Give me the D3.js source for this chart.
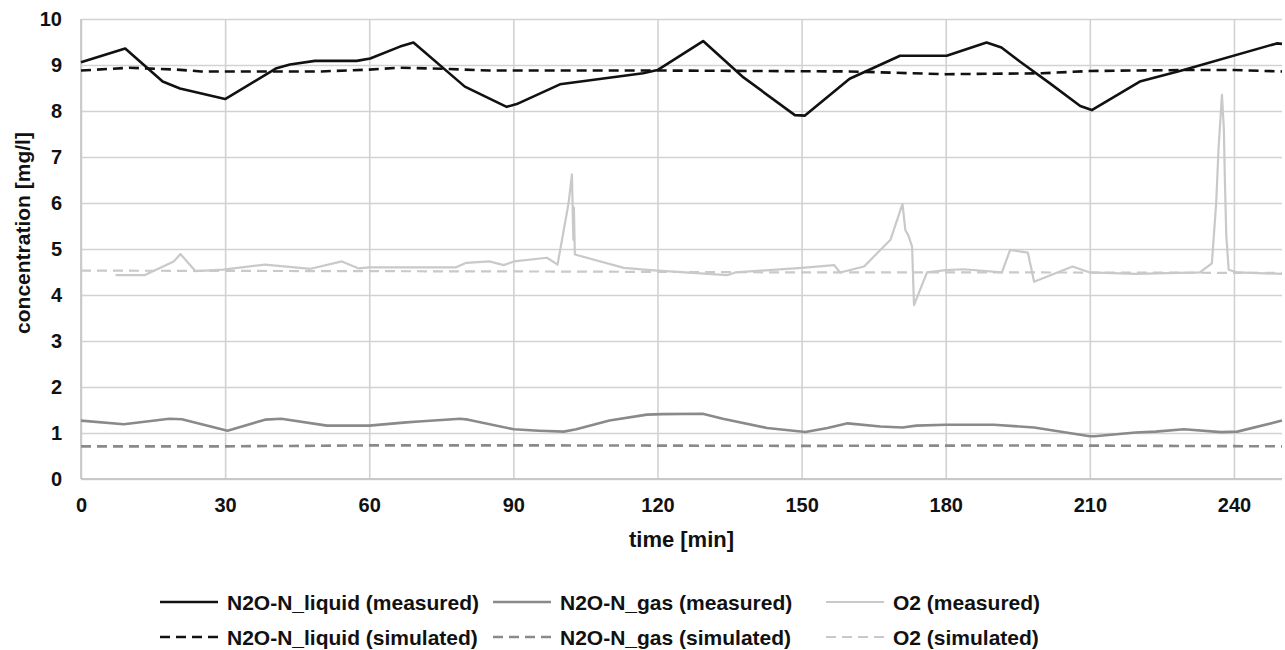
<!DOCTYPE html>
<html>
<head>
<meta charset="utf-8">
<script src="https://cdn.jsdelivr.net/npm/d3@7.9.0/dist/d3.min.js"></script>
<style>
  body { margin: 0; background: #fff; }
  text { font-family: "Liberation Sans", Arial, sans-serif; font-weight: bold; fill: #111; }
</style>
</head>
<body>
<svg id="chart" width="1285" height="650"></svg>
<script>
// values
const xTicks = [0, 30, 60, 90, 120, 150, 180, 210, 240];
const yTicks = [0, 1, 2, 3, 4, 5, 6, 7, 8, 9, 10];

const liquidMeasT = [0, 9.2, 17, 20.6, 30, 40.7, 43.5, 48.7, 57.4, 60.2, 66.4, 69.2, 79.9, 88.6, 90.7, 99.7, 117, 120, 129.5, 137.9, 148.6, 150.7, 160, 170.5, 180.2, 188.5, 191.6, 195.5, 201.7, 208, 210.4, 220.4, 229.5, 248.9, 250];
const liquidMeasV = [9.06, 9.36, 8.64, 8.49, 8.26, 8.93, 9.01, 9.09, 9.09, 9.14, 9.40, 9.49, 8.53, 8.09, 8.15, 8.58, 8.82, 8.89, 9.52, 8.73, 7.91, 7.90, 8.70, 9.20, 9.20, 9.49, 9.38, 9.07, 8.60, 8.11, 8.02, 8.64, 8.89, 9.47, 9.46];

const liquidSimT = [0, 10, 20, 25, 50, 60, 66, 75, 85, 100, 120, 140, 160, 180, 200, 210, 229, 240, 250];
const liquidSimV = [8.88, 8.94, 8.90, 8.86, 8.86, 8.90, 8.94, 8.92, 8.88, 8.88, 8.88, 8.87, 8.86, 8.80, 8.82, 8.87, 8.89, 8.89, 8.86];

const gasMeasT = [0, 8.9, 18.4, 21, 30.5, 38.3, 41.7, 51.2, 60, 67.7, 70.3, 78.9, 80.6, 90.1, 95.3, 100.5, 103.1, 110, 117.8, 121, 129.4, 133.6, 142.8, 150.8, 155.4, 159.6, 166.4, 171, 173.9, 180, 190, 198.4, 210, 211, 219.5, 223.7, 229.6, 237.3, 240.7, 250];
const gasMeasV = [1.27, 1.19, 1.31, 1.30, 1.05, 1.29, 1.31, 1.16, 1.16, 1.23, 1.25, 1.31, 1.29, 1.08, 1.05, 1.03, 1.08, 1.27, 1.40, 1.41, 1.42, 1.31, 1.11, 1.02, 1.11, 1.21, 1.14, 1.12, 1.16, 1.18, 1.18, 1.12, 0.93, 0.93, 1.01, 1.03, 1.08, 1.02, 1.03, 1.27];

const gasSimT = [0, 30, 60, 100, 150, 200, 250];
const gasSimV = [0.71, 0.71, 0.73, 0.73, 0.72, 0.73, 0.71];

const o2MeasT = [7.2, 13.2, 19.3, 20.7, 23.8, 29.6, 38.3, 47.8, 54.3, 57.7, 60, 78, 80.2, 85, 88, 90.1, 97, 99.2, 101.5, 102.2, 102.4, 102.5, 102.6, 102.8, 113, 118.5, 134.5, 136.2, 150, 156.8, 158, 163, 168.5, 171, 171.6, 172.2, 173, 173.4, 176.1, 180, 183.7, 191.7, 193.4, 197.1, 198.4, 206.4, 210, 219.5, 232.9, 235.4, 236.3, 236.8, 237.5, 237.9, 238.1, 238.4, 238.9, 240.7, 250];
const o2MeasV = [4.43, 4.43, 4.73, 4.89, 4.52, 4.55, 4.66, 4.57, 4.73, 4.58, 4.60, 4.60, 4.70, 4.73, 4.65, 4.73, 4.81, 4.66, 6.0, 6.62, 5.6, 5.2, 5.9, 4.88, 4.59, 4.54, 4.43, 4.49, 4.59, 4.65, 4.49, 4.62, 5.20, 5.98, 5.41, 5.30, 5.05, 3.78, 4.49, 4.54, 4.56, 4.49, 4.98, 4.92, 4.29, 4.62, 4.49, 4.46, 4.49, 4.69, 6.0, 7.2, 8.35, 7.6, 6.55, 5.3, 4.55, 4.49, 4.46];

const o2SimT = [0, 50, 100, 150, 200, 250];
const o2SimV = [4.53, 4.52, 4.51, 4.49, 4.49, 4.48];

const seriesLabels = [
  "N2O-N_liquid (measured)", "N2O-N_gas (measured)", "O2 (measured)",
  "N2O-N_liquid (simulated)", "N2O-N_gas (simulated)", "O2 (simulated)"
];

const svg = d3.select("#chart");
const margin = { top: 19, right: 3, bottom: 171, left: 81 };
const width = 1285 - margin.left - margin.right;
const height = 650 - margin.top - margin.bottom;

const x = d3.scaleLinear().domain([0, 250]).range([0, width]);
const y = d3.scaleLinear().domain([0, 10]).range([height, 0]);

const g = svg.append("g").attr("transform", `translate(${margin.left},${margin.top})`);

// gridlines + axes
const xAxis = g.append("g")
  .attr("transform", `translate(0,${height})`)
  .call(d3.axisBottom(x).tickValues(xTicks).tickSize(-height).tickPadding(19));
const yAxis = g.append("g")
  .call(d3.axisLeft(y).tickValues(yTicks).tickSize(-width).tickPadding(19));

[xAxis, yAxis].forEach((a) => {
  a.select(".domain").remove();
  a.selectAll("line").attr("stroke", "#d2d2d2").attr("stroke-width", 1.6);
  a.selectAll("text").style("font-size", "20px").attr("fill", "#111");
});
// frame edges at left and bottom
g.append("line").attr("x1", 0).attr("x2", 0).attr("y1", 0).attr("y2", height)
  .attr("stroke", "#c8c8c8").attr("stroke-width", 1.8);
g.append("line").attr("x1", 0).attr("x2", width).attr("y1", height).attr("y2", height)
  .attr("stroke", "#c8c8c8").attr("stroke-width", 1.8);

const line = d3.line().x((d) => x(d[0])).y((d) => y(d[1]));
const zip = (ts, vs) => ts.map((t, i) => [t, vs[i]]);

const styles = [
  { color: "#c9c9c9", width: 2.2, dash: null, data: zip(o2MeasT, o2MeasV) },
  { color: "#c9c9c9", width: 2.2, dash: "10,6", data: zip(o2SimT, o2SimV) },
  { color: "#8a8a8a", width: 2.6, dash: null, data: zip(gasMeasT, gasMeasV) },
  { color: "#8a8a8a", width: 2.6, dash: "10,6", data: zip(gasSimT, gasSimV) },
  { color: "#111111", width: 2.6, dash: "10,6", data: zip(liquidSimT, liquidSimV) },
  { color: "#111111", width: 2.6, dash: null, data: zip(liquidMeasT, liquidMeasV) }
];

styles.forEach((s) => {
  g.append("path")
    .datum(s.data)
    .attr("d", line)
    .attr("fill", "none")
    .attr("stroke", s.color)
    .attr("stroke-width", s.width)
    .attr("stroke-dasharray", s.dash)
    .attr("stroke-linejoin", "round");
});

// axis titles
svg.append("text")
  .attr("x", margin.left + width / 2)
  .attr("y", 547)
  .attr("text-anchor", "middle")
  .style("font-size", "22px")
  .text("time [min]");

svg.append("text")
  .attr("transform", "translate(30,233) rotate(-90)")
  .attr("text-anchor", "middle")
  .style("font-size", "21px")
  .text("concentration [mg/l]");

// legend
const legendColors = ["#111111", "#8a8a8a", "#c9c9c9"];
const colX = [160, 493, 826];
const rowY = [602, 637];
seriesLabels.forEach((label, i) => {
  const col = i % 3;
  const row = Math.floor(i / 3);
  const lg = svg.append("g").attr("transform", `translate(${colX[col]},${rowY[row]})`);
  lg.append("line")
    .attr("x1", 0).attr("x2", 58)
    .attr("stroke", legendColors[col])
    .attr("stroke-width", col === 2 ? 2.2 : 2.6)
    .attr("stroke-dasharray", row === 1 ? "10,6" : null);
  lg.append("text")
    .attr("x", 67)
    .attr("dy", "0.36em")
    .style("font-size", "21px")
    .text(label);
});
</script>
</body>
</html>
